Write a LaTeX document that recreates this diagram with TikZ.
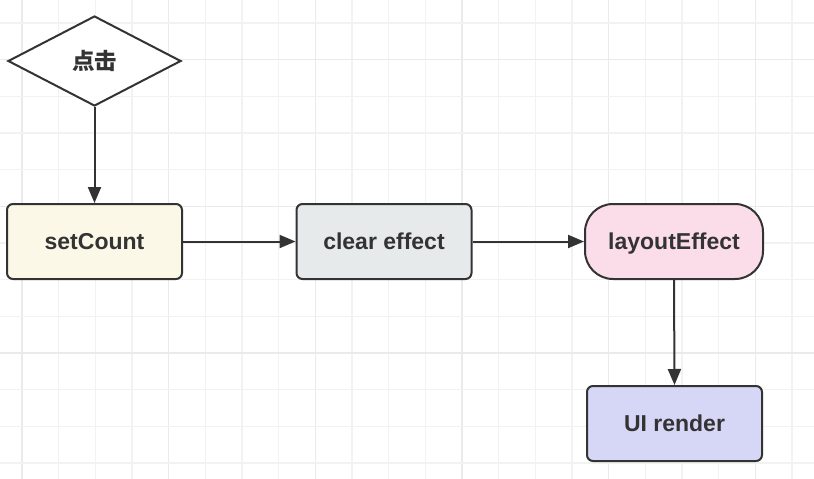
\documentclass[tikz,border=0pt]{standalone}
\usepackage{fontspec}
\setmainfont{Liberation Sans}
\newfontfamily\cjk{Noto Sans CJK SC}
\usetikzlibrary{shapes.geometric,arrows.meta}
\definecolor{gridminor}{HTML}{F2F2F2}
\definecolor{gridmajor}{HTML}{EAEAEA}
\definecolor{ink}{HTML}{333333}
\definecolor{fillyellow}{HTML}{FBF8E7}
\definecolor{fillgray}{HTML}{E7EAEB}
\definecolor{fillpink}{HTML}{FBDCE9}
\definecolor{fillblue}{HTML}{D6D6F7}
\tikzset{
  box/.style={draw=ink, line width=2pt, rounded corners=6pt, minimum width=175pt, minimum height=75pt, inner sep=0pt, text height=16pt, text depth=0pt, font=\fontsize{23}{27}\selectfont\bfseries, text=ink},
  pill/.style={box, rounded corners=28pt, minimum width=178pt},
  decision/.style={diamond, draw=ink, line width=2pt, minimum width=173pt, minimum height=90pt, inner sep=0pt, fill=white, font=\fontsize{22.5}{26}\selectfont\cjk\bfseries, text=ink},
  conn/.style={draw=ink, line width=2pt, -{Triangle[length=16pt,width=13pt]}}
}
\begin{document}
\begin{tikzpicture}[x=1pt,y=-1pt]
\useasboundingbox (0,0) rectangle (814,479);
\fill[white] (0,0) rectangle (814,479);
% grid
\foreach \i in {0,...,21} {
  \pgfmathsetmacro{\xx}{22+36.67*\i}
  \pgfmathtruncatemacro{\m}{mod(\i,4)}
  \ifnum\m=0
    \draw[gridmajor, line width=1.3pt] (\xx,0) -- (\xx,479);
  \else
    \draw[gridminor, line width=1.3pt] (\xx,0) -- (\xx,479);
  \fi
}
\foreach \j in {0,...,12} {
  \pgfmathsetmacro{\yy}{23+36.67*\j}
  \pgfmathtruncatemacro{\m}{mod(\j,4)}
  \ifnum\m=1
    \draw[gridmajor, line width=1.3pt] (0,\yy) -- (814,\yy);
  \else
    \draw[gridminor, line width=1.3pt] (0,\yy) -- (814,\yy);
  \fi
}
% nodes
\node[decision] (click) at (94.5,61) {点击};
\node[box, fill=fillyellow] (set) at (94.5,241.5) {setCount};
\node[box, fill=fillgray] (clear) at (384,241.5) {clear effect};
\node[pill, fill=fillpink] (layout) at (674,241.5) {layoutEffect};
\node[box, fill=fillblue] (ui) at (674.5,423.5) {UI render};
% connectors
\draw[conn] (click.south) -- (set.north);
\draw[conn] (set.east) -- (clear.west);
\draw[conn] (clear.east) -- (layout.west);
\draw[conn] (layout.south) -- (ui.north);
\end{tikzpicture}
\end{document}
